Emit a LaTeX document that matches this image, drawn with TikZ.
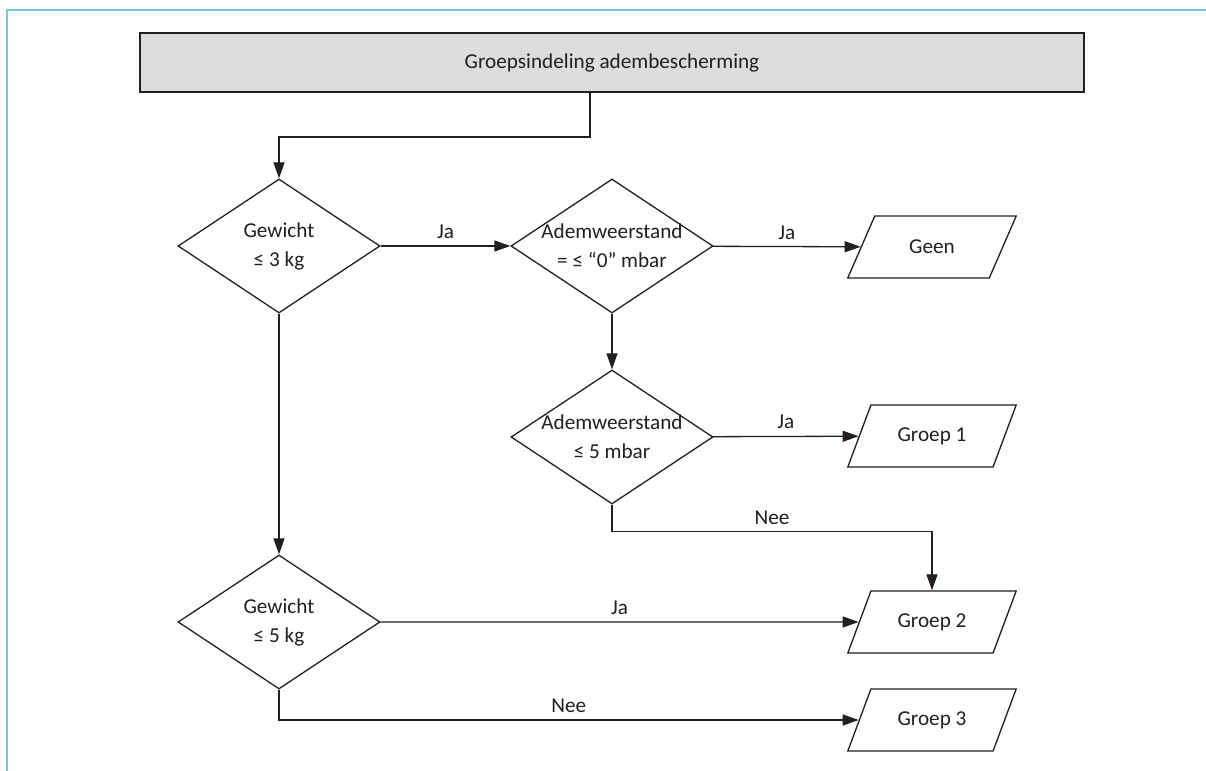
\documentclass[tikz,border=0pt]{standalone}
\usepackage{fontspec}
\setmainfont{Carlito}
\usetikzlibrary{shapes.geometric,arrows.meta}
\definecolor{framecyan}{RGB}{122,199,230}
\definecolor{inkgray}{RGB}{35,31,32}
\definecolor{titlegray}{RGB}{220,221,223}
\tikzset{decision/.style={diamond, draw=inkgray, line width=0.65pt, align=center, inner sep=-3pt, shape aspect=1.5, minimum width=101pt, minimum height=67pt}}
\tikzset{outcome/.style={trapezium, trapezium left angle=63, trapezium right angle=117, trapezium stretches=true, draw=inkgray, line width=0.65pt, minimum width=84.5pt, minimum height=31pt}}
\tikzset{flow/.style={draw=inkgray, line width=0.65pt, -{Triangle[length=8pt,width=5.5pt]}}}
\tikzset{answer/.style={above}}

\begin{document}
\begin{tikzpicture}[x=0.5pt, y=-0.5pt, font=\fontsize{10.6}{14.5}\selectfont, text=inkgray]
\useasboundingbox (0,0) rectangle (1206,771);
\draw[framecyan, line width=1pt] (7,771) -- (7,10) -- (1206,10);

\node[draw=inkgray, fill=titlegray, line width=1pt, minimum width=472pt, minimum height=29.5pt] (title) at (612,62.5) {Groepsindeling adembescherming};

% beslissingen
\node[decision] (d1) at (279,246) {Gewicht\\≤ 3 kg};
\node[decision] (d2) at (612,246) {Ademweerstand\\= ≤ “0” mbar};
\node[decision] (d3) at (612,437) {Ademweerstand\\≤ 5 mbar};
\node[decision] (d4) at (279,622) {Gewicht\\≤ 5 kg};

% uitkomsten
\node[outcome] (geen) at (932,247) {Geen};
\node[outcome] (groep1) at (932,436) {Groep 1};
\node[outcome] (groep2) at (932,622) {Groep 2};
\node[outcome] (groep3) at (932,720) {Groep 3};

\draw[flow] ([xshift=-11pt]title.south) -- ++(0,44) -| (d1);
\draw[flow] (d1) -- node[answer]{Ja} (d2);
\draw[flow] (d2) -- node[answer]{Ja} (geen);
\draw[flow] (d2) -- (d3);
\draw[flow] (d3) -- node[answer]{Ja} (groep1);
\draw[flow] (d3.south) -- ++(0,27) -| node[answer, pos=0.25]{Nee} (groep2);
\draw[flow] (d1) -- (d4);
\draw[flow] (d4) -- node[answer]{Ja} (groep2);
\draw[flow] (d4.south) |- node[answer, pos=0.75]{Nee} (groep3);
\end{tikzpicture}
\end{document}
